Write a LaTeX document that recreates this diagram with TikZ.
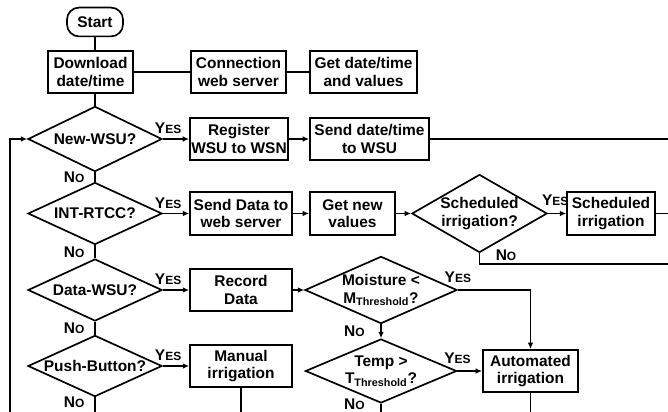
\documentclass[tikz,border=0pt]{standalone}
\usepackage{fontspec}
\setmainfont{Liberation Sans}
\usetikzlibrary{shapes.geometric,arrows.meta}
\newcommand{\yeslbl}{Y\fontsize{8.5}{10}\selectfont ES}
\newcommand{\nolbl}{N\fontsize{8.5}{10}\selectfont O}
\tikzset{
	block/.style={draw, rectangle, align=center, minimum height=1.06cm, inner sep=1pt},
	decision/.style={draw, diamond, inner sep=0pt},
	answer/.style={inner sep=1pt, font=\fontsize{11}{12}\selectfont\bfseries},
	arr/.style={-{Latex[length=4.5pt,width=4pt]}},
}

\begin{document}
\begin{tikzpicture}[x=0.025cm, y=-0.025cm, line width=1.2pt, font=\fontsize{11}{12.5}\selectfont\bfseries]
		\useasboundingbox (0,0) rectangle (668,412);
		%Top row
		\node[draw, rounded corners=0.3cm, minimum width=1.4cm, minimum height=0.72cm] (start) at (95,22) {Start};
		\node[block, minimum width=2.13cm] (download) at (90.5,72) {Download\\date/time};
		\node[block, minimum width=2.38cm] (connect) at (238.5,72) {Connection\\web server};
		\node[block, minimum width=2.68cm] (getdt) at (363.5,72) {Get date/time\\and values};
		%Decisions on the left
		\node[decision, minimum width=3.35cm, minimum height=1.63cm, label=center:New-WSU?] (newwsu) at (95,139) {};
		\node[decision, minimum width=3.35cm, minimum height=1.55cm, label=center:INT-RTCC?] (intrtcc) at (95,213.5) {};
		\node[decision, minimum width=3.35cm, minimum height=1.55cm, label=center:Data-WSU?] (datawsu) at (95,290) {};
		\node[decision, minimum width=3.35cm, minimum height=1.53cm, label=center:Push-Button?] (push) at (95,366) {};
		%Actions
		\node[block, minimum width=2.45cm] (register) at (239,139) {Register\\WSU to WSN};
		\node[block, minimum width=2.98cm] (senddt) at (369.5,139) {Send date/time\\to WSU};
		\node[block, minimum width=2.55cm] (senddata) at (241,213.5) {Send Data to\\web server};
		\node[block, minimum width=2.13cm] (getnew) at (352.5,213.5) {Get new\\values};
		\node[decision, minimum width=3.38cm, minimum height=1.95cm, label={[align=center]center:Scheduled\\irrigation?}] (sched) at (479.5,213.5) {};
		\node[block, minimum width=2.2cm] (schedirr) at (611,213.5) {Scheduled\\irrigation};
		\node[block, minimum width=2.55cm] (record) at (241,290) {Record\\Data};
		\node[decision, minimum width=3.8cm, minimum height=1.68cm, label={[align=center]center:Moisture <\\M\textsubscript{Threshold}?}] (moist) at (381,290) {};
		\node[decision, minimum width=3.78cm, minimum height=1.6cm, label={[align=center]center:Temp >\\T\textsubscript{Threshold}?}] (temp) at (381,371) {};
		\node[block, minimum width=2.38cm] (auto) at (530.5,371) {Automated\\irrigation};
		\node[block, minimum width=2.55cm] (manual) at (241,366) {Manual\\irrigation};
		%Loose ends at the border
		\coordinate (fb) at (10,412);
		\coordinate (e1) at (668,139);
		\coordinate (e2) at (668,213.5);
		\coordinate (e3) at (668,264);
		\coordinate (b1) at (95,412);
		\coordinate (b2) at (241,412);
		\coordinate (b3) at (381,412);
		\coordinate (b4) at (530.5,412);
		%Plain lines
		\draw (start.south) -- (start.south |- download.north);
		\draw (download) -- (connect);
		\draw (connect) -- (getdt);
		\draw (newwsu.north |- download.south) -- (newwsu.north);
		\draw (newwsu) -- node[answer, left=6pt] (n1) {\nolbl} (intrtcc);
		\draw (intrtcc) -- node[answer, left=6pt] (n2) {\nolbl} (datawsu);
		\draw (datawsu) -- node[answer, left=6pt] (n3) {\nolbl} (push);
		\draw (push) -- node[answer, left=6pt, yshift=1.5pt] (n4) {\nolbl} (b1);
		\draw (senddt) -- (e1);
		\draw (schedirr) -- (e2);
		\draw (sched.south) |- node[answer, anchor=south west, xshift=10pt, yshift=1pt, pos=0.5] (n5) {\nolbl} (e3);
		\draw (manual) -- (b2);
		\draw (temp) -- node[answer, left=10pt, yshift=2.5pt] (n7) {\nolbl} (b3);
		\draw (auto) -- (b4);
		%Arrows
		\draw[arr] (fb) |- (newwsu.west);
		\draw[arr] (newwsu) -- node[answer, above=2pt, pos=0.2] (y1) {\yeslbl} (register);
		\draw[arr] (register) -- (senddt);
		\draw[arr] (intrtcc) -- node[answer, above=2pt, pos=0.2] (y2) {\yeslbl} (senddata);
		\draw[arr] (senddata) -- (getnew);
		\draw[arr] (getnew) -- (sched);
		\draw[arr] (sched) -- node[answer, above=4pt, pos=0.4] (y3) {\yeslbl} (schedirr);
		\draw[arr] (datawsu) -- node[answer, above=2pt, pos=0.2] (y4) {\yeslbl} (record);
		\draw[arr] (record) -- (moist);
		\draw[arr] (moist.east) -| node[answer, above=4pt, pos=0.0] (y5) {\yeslbl} (auto.north);
		\draw[arr] (moist) -- node[answer, left=10pt] (n6) {\nolbl} (temp);
		\draw[arr] (temp) -- node[answer, above=4pt, pos=0.0] (y6) {\yeslbl} (auto);
		\draw[arr] (push) -- node[answer, above=2pt, pos=0.2] (y7) {\yeslbl} (manual);
	\end{tikzpicture}
\end{document}
